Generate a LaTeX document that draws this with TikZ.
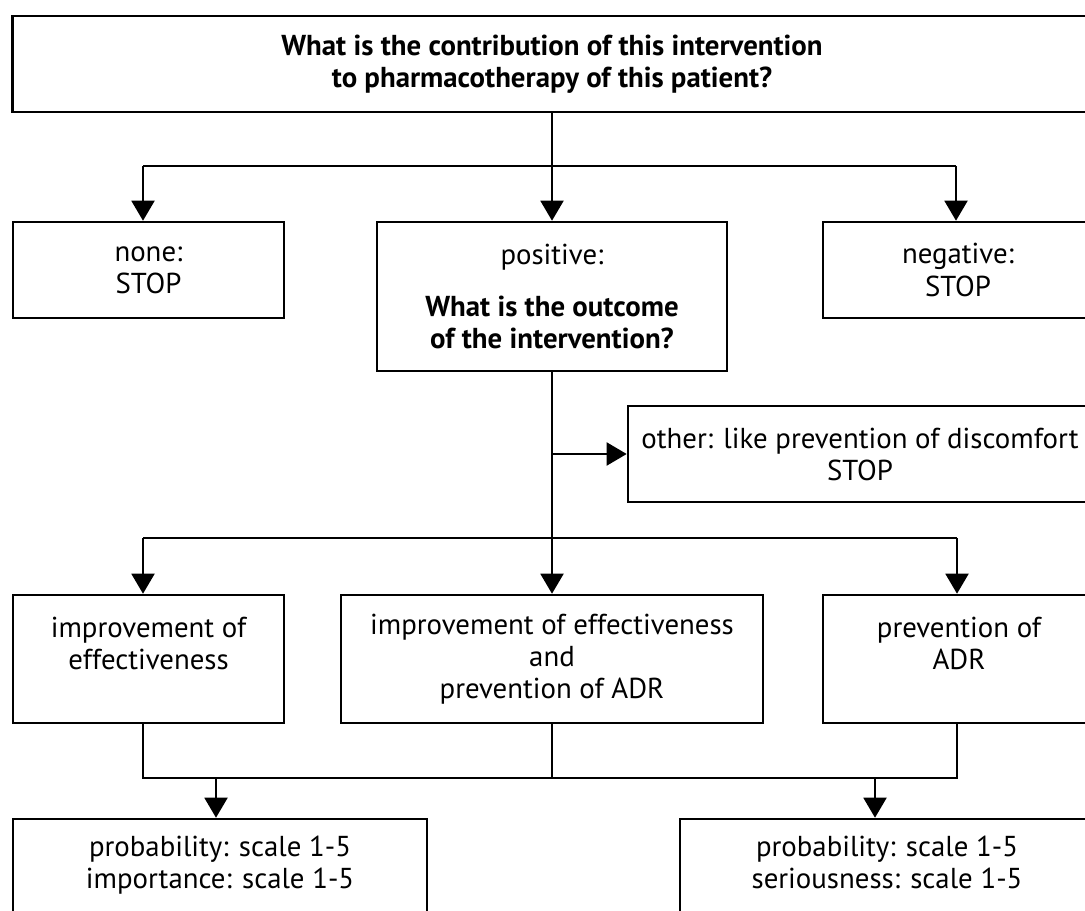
\documentclass[tikz,border=0pt]{standalone}
\usepackage{fontspec}
\setmainfont{PT Sans}
\usetikzlibrary{arrows.meta, positioning}

\begin{document}
\begin{tikzpicture}[
x=0.025cm, y=-0.025cm,
every node/.style={draw, rectangle, align=center, line width=1.8pt, inner sep=0pt,
  font=\fontsize{20.5}{22.8}\selectfont},
arrow/.style={-{Triangle[length=0.5cm, width=0.575cm]}, line width=1.4pt},
link/.style={line width=1.4pt}
]
\useasboundingbox (0,0) rectangle (1085,911);
\clip (0,0) rectangle (1085,911);

\node (contrib) [minimum width=26.975cm, minimum height=2.4cm] at (552,64)
  {\textbf{What is the contribution of this intervention}\\\textbf{to pharmacotherapy of this patient?}};
\node (none) [minimum width=6.775cm, minimum height=2.4cm] at (148.5,270) {none:\\STOP};
\node (positive) [minimum width=8.75cm, minimum height=3.725cm] at (552,296.5)
  {positive:\\[0.475cm]\textbf{What is the outcome}\\\textbf{of the intervention?}};
\node (negative) [minimum width=6.75cm, minimum height=2.4cm] at (958,270) {negative:\\STOP};
\node (other) [minimum width=11.6cm, minimum height=2.4cm] at (860,454)
  {other: like prevention of discomfort\\STOP};

\node (effect) [minimum width=6.775cm, minimum height=3.2cm] at (148.5,659)
  {improvement of\\effectiveness\\~};
\node (both) [minimum width=10.55cm, minimum height=3.2cm] at (552,659)
  {improvement of effectiveness\\and\\prevention of ADR};
\node (adr) [minimum width=6.8cm, minimum height=3.2cm] at (959,659)
  {prevention of\\ADR\\~};

\node (probl) [minimum width=10.35cm, minimum height=2.425cm] at (220,867.5)
  {probability: scale 1-5\\importance: scale 1-5\strut};
\node (probr) [minimum width=10.35cm, minimum height=2.425cm] at (887,867.5)
  {probability: scale 1-5\\seriousness: scale 1-5\strut};

% first split
\coordinate (hl) at (143,166);
\coordinate (hr) at (956,166);
\draw[link] (hl) -- (hr);
\draw[arrow] (contrib.south) -- (positive.north);
\draw[arrow] (hl) -- (hl |- none.north);
\draw[arrow] (hr) -- (hr |- negative.north);

% outcome split
\draw[arrow] (positive.south) -- (both.north);
\draw[arrow] (positive.south |- other.west) -- (other.west);
\coordinate (ml) at (143,538);
\coordinate (mr) at (957,538);
\draw[link] (ml) -- (mr);
\draw[arrow] (ml) -- (ml |- effect.north);
\draw[arrow] (mr) -- (mr |- adr.north);

% scales
\coordinate (jl) at (143,778);
\coordinate (jr) at (957,778);
\draw[link] (jl |- effect.south) -- (jl) -- (jr) -- (jr |- adr.south);
\draw[link] (both.south) -- (both.south |- jl);
\coordinate (dl) at (216,778);
\coordinate (dr) at (875,778);
\draw[arrow] (dl) -- (dl |- probl.north);
\draw[arrow] (dr) -- (dr |- probr.north);

\end{tikzpicture}
\end{document}
